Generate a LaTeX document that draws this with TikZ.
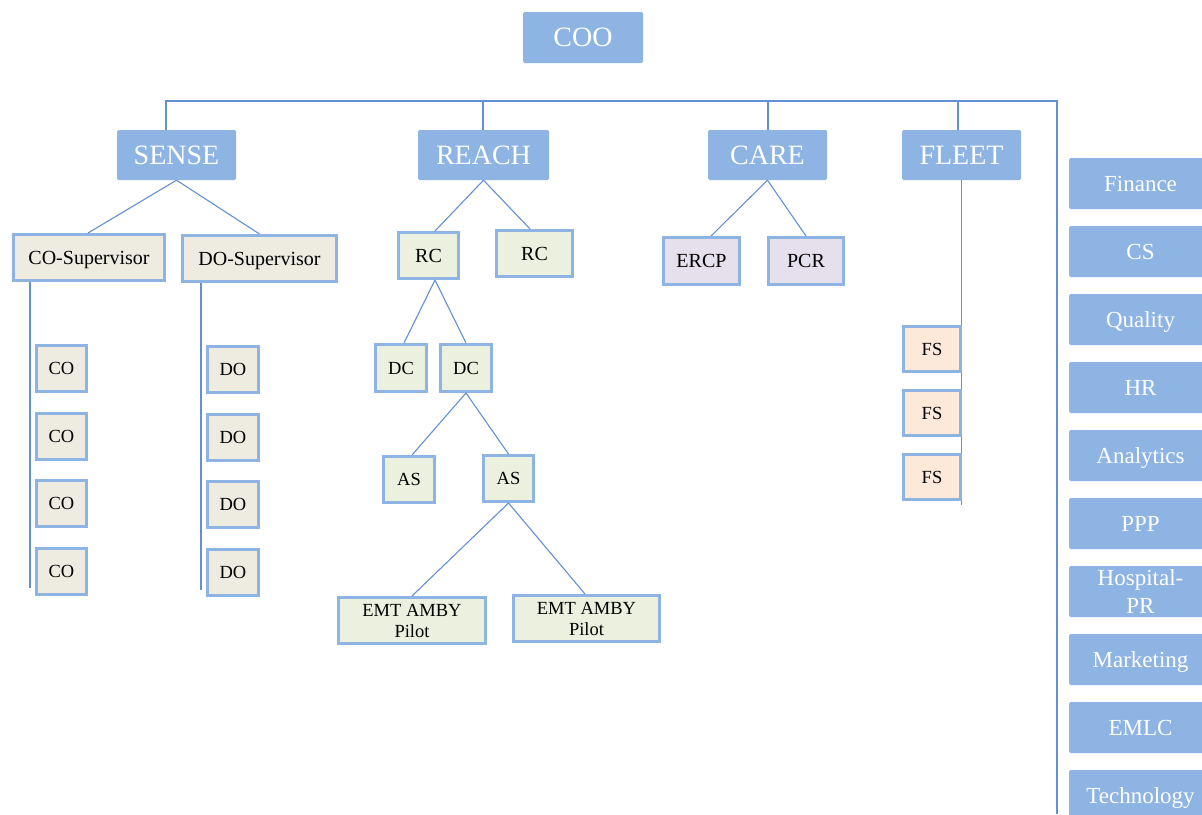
\documentclass[tikz,border=0pt]{standalone}
\usepackage{fontspec}
\setmainfont{Liberation Serif}
\usepackage{xcolor}
\usetikzlibrary{positioning}
\definecolor{myblue}{RGB}{142,180,227}
\definecolor{myline}{RGB}{98,144,210}
\definecolor{mygrey}{RGB}{238,236,225}
\definecolor{mygreen}{RGB}{235,241,222}
\definecolor{mypurple}{RGB}{229,224,236}
\definecolor{myorange}{RGB}{253,233,217}
\tikzset{
  headbox/.style={fill=myblue, text=white, rounded corners=1.5, inner sep=0,
    font=\fontsize{28}{32}\selectfont},
  sidebox/.style={fill=myblue, text=white, rounded corners=1.5, inner sep=0,
    minimum width=143, minimum height=51, align=center,
    text height=15.2pt, text depth=0pt,
    font=\fontsize{23}{28}\selectfont},
  unitbox/.style={draw=myblue, line width=3, inner sep=0, align=center,
    text height=12.2pt, text depth=0pt,
    font=\fontsize{18.5}{21}\selectfont},
  bigunit/.style={text height=13.2pt, font=\fontsize{20}{24}\selectfont},
  twolines/.style={text height=, text depth=},
  conn/.style={draw=myline, line width=1.1},
}
\begin{document}
\begin{tikzpicture}[x=1pt,y=-1pt]
  \useasboundingbox (0,0) rectangle (1202,814);

  % top level
  \node[headbox, minimum width=120, minimum height=51] (coo) at (583,37.5) {COO};
  \node[headbox, minimum width=119, minimum height=50] (sense) at (176.5,155) {SENSE};
  \node[headbox, minimum width=131, minimum height=50] (reach) at (483.5,155) {REACH};
  \node[headbox, minimum width=119, minimum height=50] (care) at (767.5,155) {CARE};
  \node[headbox, minimum width=119, minimum height=50] (fleet) at (961.5,155) {FLEET};

  \coordinate (busL) at (166,101);
  \coordinate (busR) at (1057,101);
  \coordinate (busEnd) at (1057,814);
  \draw[conn] (sense.north -| busL) |- (busR) -- (busEnd);
  \draw[conn] ([xshift=-0.5]reach.north) -- ([xshift=-0.5]reach.north |- busL);
  \draw[conn] ([xshift=0.5]care.north) -- ([xshift=0.5]care.north |- busL);
  \draw[conn] ([xshift=-3.5]fleet.north) -- ([xshift=-3.5]fleet.north |- busL);

  % sense
  \node[unitbox, bigunit, fill=mygrey, minimum width=151, minimum height=46] (cosup) at (89,257.5) {CO-Supervisor};
  \node[unitbox, bigunit, fill=mygrey, minimum width=154, minimum height=46] (dosup) at (259.5,258.5) {DO-Supervisor};
  \draw[conn] (sense.south) -- ([xshift=-1]cosup.north);
  \draw[conn] (sense.south) -- (dosup.north);
  \coordinate (coEnd) at (30,588);
  \coordinate (doEnd) at (201,590);
  \draw[conn] (cosup.south -| coEnd) -- (coEnd);
  \draw[conn] (dosup.south -| doEnd) -- (doEnd);
  \foreach \y [count=\i] in {368.5,436,503.5,571.5}{
    \node[unitbox, fill=mygrey, minimum width=50, minimum height=46] (co\i) at (61.5,\y) {CO};
    \node[unitbox, fill=mygrey, minimum width=51, minimum height=46] (do\i) at (233,\y+1) {DO};
  }

  % reach
  \node[unitbox, bigunit, fill=mygreen, minimum width=60, minimum height=46] (rcA) at (428.5,255.5) {RC};
  \node[unitbox, bigunit, fill=mygreen, minimum width=76, minimum height=46] (rcB) at (534.5,253.5) {RC};
  \node[unitbox, fill=mygreen, minimum width=51, minimum height=47] (dcA) at (401,368) {DC};
  \node[unitbox, fill=mygreen, minimum width=51, minimum height=47] (dcB) at (466,368) {DC};
  \node[unitbox, fill=mygreen, minimum width=51, minimum height=46] (asA) at (409,479.5) {AS};
  \node[unitbox, fill=mygreen, minimum width=50, minimum height=46] (asB) at (508.5,478.5) {AS};
  \node[unitbox, twolines, fill=mygreen, minimum width=147, minimum height=46] (emtA) at (412,620.5) {EMT AMBY\\Pilot};
  \node[unitbox, twolines, fill=mygreen, minimum width=146, minimum height=46] (emtB) at (586.5,618.5) {EMT AMBY\\Pilot};
  \draw[conn] (reach.south) -- ([xshift=6.5]rcA.north);
  \draw[conn] (reach.south) -- ([xshift=-4.5]rcB.north);
  \draw[conn] ([xshift=6.5]rcA.south) -- ([xshift=3]dcA.north);
  \draw[conn] ([xshift=6.5]rcA.south) -- (dcB.north);
  \draw[conn] (dcB.south) -- ([xshift=3]asA.north);
  \draw[conn] (dcB.south) -- (asB.north);
  \draw[conn] (asB.south) -- (emtA.north);
  \draw[conn] (asB.south) -- ([xshift=-1.5]emtB.north);

  % care
  \node[unitbox, bigunit, fill=mypurple, minimum width=76, minimum height=47] (ercp) at (701.5,261) {ERCP};
  \node[unitbox, bigunit, fill=mypurple, minimum width=75, minimum height=47] (pcr) at (806,261) {PCR};
  \draw[conn] (care.south) -- ([xshift=9.5]ercp.north);
  \draw[conn] (care.south) -- (pcr.north);

  % fleet
  \coordinate (fsEnd) at (962,505);
  \draw[conn] (fleet.south) -- (fleet.south |- fsEnd);
  \foreach \y [count=\i] in {349,413,477}{
    \node[unitbox, fill=myorange, minimum width=57, minimum height=45] (fs\i) at (932,\y) {FS};
  }

  % support functions
  \foreach \t [count=\i] in {Finance,CS,Quality,HR,Analytics,PPP,Marketing,EMLC,Technology}{
    \pgfmathtruncatemacro{\k}{\i>6 ? \i+1 : \i}
    \node[sidebox] (side\k) at (1140.5,115.5+68*\k) {\t};
  }
  \node[sidebox, twolines] (side7) at (1140.5,591.5) {Hospital-\\PR};

\end{tikzpicture}
\end{document}
